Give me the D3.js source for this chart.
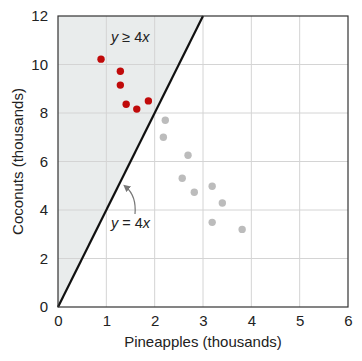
<!DOCTYPE html>
<html>
<head>
<meta charset="utf-8">
<script src="https://cdn.jsdelivr.net/npm/d3@7"></script>
<style>
  body { margin: 0; background: #fff; }
  text { font-family: "Liberation Sans", Arial, sans-serif; }
</style>
</head>
<body>
<div id="chart"></div>
<script>
// Points inside the region y >= 4x (red) and outside it (gray)
const insidePts = [
  [0.89, 10.22], [1.29, 9.72], [1.29, 9.15],
  [1.41, 8.36], [1.63, 8.16], [1.87, 8.5],
];
const outsidePts = [
  [2.22, 7.7], [2.18, 7.0], [2.69, 6.26], [2.57, 5.31], [2.82, 4.73],
  [3.19, 4.98], [3.4, 4.29], [3.19, 3.49], [3.81, 3.2],
];
const xTicks = [0, 1, 2, 3, 4, 5, 6];
const yTicks = [0, 2, 4, 6, 8, 10, 12];
const slope = 4;

const width = 362, height = 361;
const margin = { top: 16, right: 14, bottom: 54, left: 58 };

const svg = d3.select("#chart").append("svg")
  .attr("width", width)
  .attr("height", height);

const x = d3.scaleLinear().domain([0, 6]).range([margin.left, width - margin.right]);
const y = d3.scaleLinear().domain([0, 12]).range([height - margin.bottom, margin.top]);

// shaded feasible region y >= 4x
const xEdge = 12 / slope;
svg.append("path")
  .attr("d", d3.line()([[x(0), y(0)], [x(xEdge), y(12)], [x(0), y(12)]]) + "Z")
  .attr("fill", "#e9ecec");

// grid
svg.append("g")
  .selectAll("line")
  .data(xTicks.slice(1, -1))
  .join("line")
  .attr("x1", (d) => x(d)).attr("x2", (d) => x(d))
  .attr("y1", y(0)).attr("y2", y(12))
  .attr("stroke", "#d4d4d4");
svg.append("g")
  .selectAll("line")
  .data(yTicks.slice(1, -1))
  .join("line")
  .attr("x1", x(0)).attr("x2", x(6))
  .attr("y1", (d) => y(d)).attr("y2", (d) => y(d))
  .attr("stroke", "#d4d4d4");

// boundary line y = 4x
svg.append("line")
  .attr("x1", x(0)).attr("y1", y(0))
  .attr("x2", x(xEdge)).attr("y2", y(12))
  .attr("stroke", "#111")
  .attr("stroke-width", 2.2);

// frame
svg.append("rect")
  .attr("x", x(0)).attr("y", y(12))
  .attr("width", x(6) - x(0)).attr("height", y(0) - y(12))
  .attr("fill", "none")
  .attr("stroke", "#333")
  .attr("stroke-width", 1.2);

// points
svg.append("g")
  .selectAll("circle")
  .data(outsidePts)
  .join("circle")
  .attr("cx", (d) => x(d[0])).attr("cy", (d) => y(d[1]))
  .attr("r", 3.7)
  .attr("fill", "#bcbcbc");
svg.append("g")
  .selectAll("circle")
  .data(insidePts)
  .join("circle")
  .attr("cx", (d) => x(d[0])).attr("cy", (d) => y(d[1]))
  .attr("r", 3.7)
  .attr("fill", "#c00a0a");

// axes
const xAxis = svg.append("g")
  .attr("transform", `translate(0,${y(0)})`)
  .call(d3.axisBottom(x).tickValues(xTicks).tickFormat(d3.format("d")).tickSize(0).tickPadding(8));
const yAxis = svg.append("g")
  .attr("transform", `translate(${x(0)},0)`)
  .call(d3.axisLeft(y).tickValues(yTicks).tickFormat(d3.format("d")).tickSize(0).tickPadding(10));
[xAxis, yAxis].forEach((g) => {
  g.select(".domain").remove();
  g.selectAll("text")
    .attr("font-size", 15)
    .attr("font-family", "Liberation Sans, Arial, sans-serif")
    .attr("fill", "#222");
});

// axis titles
svg.append("text")
  .attr("x", (x(0) + x(6)) / 2)
  .attr("y", 347)
  .attr("text-anchor", "middle")
  .attr("font-size", 15)
  .attr("fill", "#222")
  .text("Pineapples (thousands)");
svg.append("text")
  .attr("transform", `translate(23,${(y(0) + y(12)) / 2}) rotate(-90)`)
  .attr("text-anchor", "middle")
  .attr("font-size", 15)
  .attr("fill", "#222")
  .text("Coconuts (thousands)");

// annotations
const ann1 = svg.append("text")
  .attr("x", 111).attr("y", 42)
  .attr("font-size", 14.5)
  .attr("fill", "#222");
ann1.append("tspan").attr("font-style", "italic").text("y");
ann1.append("tspan").text(" ≥ 4");
ann1.append("tspan").attr("font-style", "italic").text("x");

const ann2 = svg.append("text")
  .attr("x", 111).attr("y", 228)
  .attr("font-size", 14.5)
  .attr("fill", "#222");
ann2.append("tspan").attr("font-style", "italic").text("y");
ann2.append("tspan").text(" = 4");
ann2.append("tspan").attr("font-style", "italic").text("x");

// curved arrow pointing at the line
svg.append("defs").append("marker")
  .attr("id", "ah")
  .attr("viewBox", "0 0 10 10")
  .attr("refX", 5).attr("refY", 5)
  .attr("markerWidth", 6).attr("markerHeight", 6)
  .attr("orient", "auto-start-reverse")
  .append("path")
  .attr("d", "M0,0 L10,5 L0,10 Z")
  .attr("fill", "#777");
svg.append("path")
  .attr("d", "M135,214 C136,202 133,193 126,187")
  .attr("fill", "none")
  .attr("stroke", "#777")
  .attr("stroke-width", 1.2)
  .attr("marker-end", "url(#ah)");
</script>
</body>
</html>
